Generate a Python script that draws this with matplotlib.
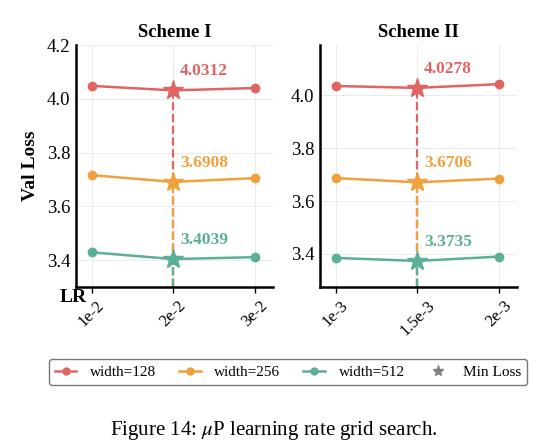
import matplotlib
matplotlib.use("Agg")
import matplotlib.pyplot as plt
from matplotlib.lines import Line2D

plt.rcParams['font.family'] = ['Liberation Serif', 'DejaVu Serif']
plt.rcParams['mathtext.fontset'] = 'stix'

schemes = ["Scheme I", "Scheme II"]
lr_labels = [["1e-2", "2e-2", "3e-2"], ["1e-3", "1.5e-3", "2e-3"]]
widths = ["width=128", "width=256", "width=512"]
colors = ["#E06464", "#F0A03C", "#5BAE98"]

loss_s1 = [
    [4.048, 4.0312, 4.040],
    [3.716, 3.6908, 3.705],
    [3.429, 3.4039, 3.411],
]
loss_s2 = [
    [4.035, 4.0278, 4.042],
    [3.687, 3.6706, 3.685],
    [3.385, 3.3735, 3.390],
]
all_loss = [loss_s1, loss_s2]
ylims = [(3.30, 4.2), (3.275, 4.19)]
yticks = [[3.4, 3.6, 3.8, 4.0, 4.2], [3.4, 3.6, 3.8, 4.0]]

fig = plt.figure(figsize=(5.48, 4.48), dpi=100)
axes = [fig.add_axes([76/548, 1-287/448, 197/548, 242/448]),
        fig.add_axes([320/548, 1-287/448, 197/548, 242/448])]

for k, ax in enumerate(axes):
    data = all_loss[k]
    x = list(range(len(lr_labels[k])))
    for i, series in enumerate(data):
        ax.plot(x, series, color=colors[i], lw=1.8, marker='o', ms=6, zorder=3)
        j = series.index(min(series))
        ax.plot([x[j]], [series[j]], marker='*', ms=15, color=colors[i], zorder=4, ls='none')
        ax.plot([x[j], x[j]], [ylims[k][0], series[j]], color=colors[i], ls='--', lw=1.6, zorder=2)
        ax.annotate(f"{series[j]:.4f}", (x[j], series[j]), xytext=(5, 8),
                    textcoords='offset points', color=colors[i], fontsize=12.5,
                    fontweight='bold', ha='left', va='bottom')
    ax.set_xlim(-0.19, 2.22)
    ax.set_ylim(*ylims[k])
    ax.set_yticks(yticks[k])
    ax.set_yticklabels([f"{v:.1f}" for v in yticks[k]], fontsize=13.5)
    ax.set_xticks(x)
    ax.set_xticklabels(lr_labels[k], rotation=45, fontsize=12, ha='center')
    ax.grid(True, color='#e8e8e8', lw=0.6, ls='-')
    ax.set_axisbelow(True)
    for s in ['top', 'right']:
        ax.spines[s].set_visible(False)
    for s in ['left', 'bottom']:
        ax.spines[s].set_linewidth(1.8)
    ax.tick_params(axis='x', length=4, width=1.0)
    ax.tick_params(axis='y', length=0, pad=4)
    ax.set_title(schemes[k], fontsize=13.5, fontweight='bold', pad=6)

axes[0].set_ylabel("Val Loss", fontsize=14, fontweight='bold', labelpad=6)
fig.text(73/548, 1-297/448, "LR", fontsize=14, fontweight='bold', ha='center', va='center')

handles = [Line2D([0], [0], color=c, lw=1.8, marker='o', ms=5) for c in colors]
handles.append(Line2D([0], [0], color='gray', marker='*', ms=8, ls='none'))
fig.legend(handles, widths + ["Min Loss"], loc='center', bbox_to_anchor=(288/548, 1-372/448),
           ncol=4, fontsize=11, frameon=True, edgecolor='#555555', fancybox=True,
           columnspacing=1.5, handlelength=1.4, handletextpad=0.9, borderpad=0.4)

fig.text(274/548, 1-430/448, r"Figure 14: $\mu$P learning rate grid search.", fontsize=15,
         ha='center', va='center')

fig.savefig("out.png", dpi=100)
